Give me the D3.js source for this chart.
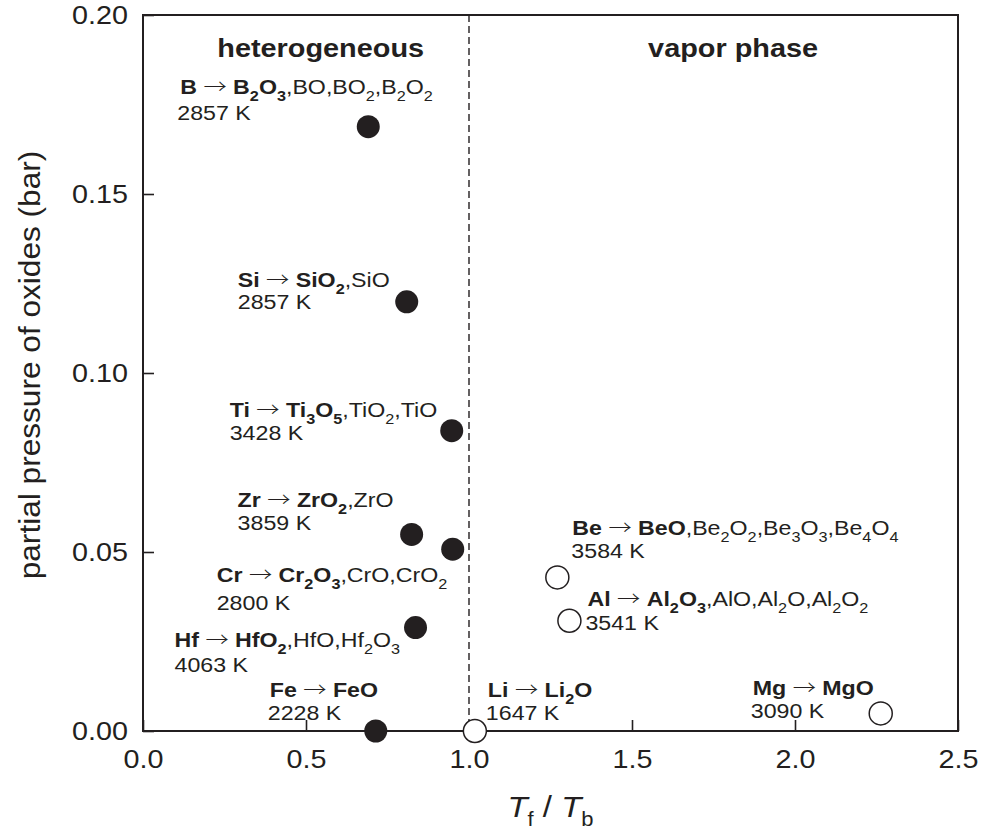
<!DOCTYPE html>
<html>
<head>
<meta charset="utf-8">
<script src="https://cdn.jsdelivr.net/npm/d3@7"></script>
<style>
  html, body { margin: 0; padding: 0; background: #fff; }
  svg { display: block; }
  text { font-family: "Liberation Sans", Arial, Helvetica, sans-serif; fill: #231f20; }
</style>
</head>
<body>
<svg id="chart" width="982" height="836"></svg>
<script>
// ---------------- data ----------------
const elements = ["B", "Si", "Ti", "Zr", "Cr", "Hf", "Fe", "Li", "Be", "Al", "Mg"];
const tRatio   = [0.691, 0.809, 0.947, 0.824, 0.950, 0.836, 0.714, 1.018, 1.271, 1.308, 2.263];
const pressure = [0.1688, 0.1199, 0.0839, 0.0549, 0.0508, 0.0289, 0.0, 0.0, 0.0429, 0.0308, 0.0049];
const phase    = ["het", "het", "het", "het", "het", "het", "het", "vap", "vap", "vap", "vap"];
const reactions = [
  "**B** \u2192 **B_2O_3**,BO,BO_2,B_2O_2",
  "**Si** \u2192 **SiO_2**,SiO",
  "**Ti** \u2192 **Ti_3O_5**,TiO_2,TiO",
  "**Zr** \u2192 **ZrO_2**,ZrO",
  "**Cr** \u2192 **Cr_2O_3**,CrO,CrO_2",
  "**Hf** \u2192 **HfO_2**,HfO,Hf_2O_3",
  "**Fe** \u2192 **FeO**",
  "**Li** \u2192 **Li_2O**",
  "**Be** \u2192 **BeO**,Be_2O_2,Be_3O_3,Be_4O_4",
  "**Al** \u2192 **Al_2O_3**,AlO,Al_2O,Al_2O_2",
  "**Mg** \u2192 **MgO**"
];
const flameTemps = ["2857 K", "2857 K", "3428 K", "3859 K", "2800 K", "4063 K", "2228 K", "1647 K", "3584 K", "3541 K", "3090 K"];
const xTicks = [0.0, 0.5, 1.0, 1.5, 2.0, 2.5];
const yTicks = [0.00, 0.05, 0.10, 0.15, 0.20];
const regionLabels = ["heterogeneous", "vapor phase"];
const boundary = 1.0;

// ---------------- layout (label offsets from the point, px) ----------------
const labelOffsets = [
  {mx: -188, my: -33, tx: -191, ty: -7},
  {mx: -169, my: -15, tx: -169, ty: 7},
  {mx: -222, my: -14, tx: -222, ty: 9},
  {mx: -174, my: -27, tx: -174, ty: -4},
  {mx: -236, my: 33,  tx: -236, ty: 61},
  {mx: -241, my: 19,  tx: -241, ty: 44},
  {mx: -106, my: -34, tx: -108, ty: -11},
  {mx: 13,   my: -34, tx: 11,   ty: -11},
  {mx: 15,   my: -42, tx: 14,   ty: -19},
  {mx: 18,   my: -15, tx: 16,   ty: 9},
  {mx: -128, my: -18, tx: -130, ty: 5}
];

const ink = "#231f20";
const margin = {top: 15, right: 24, bottom: 105, left: 143};
const W = 982, H = 836;
const iw = W - margin.left - margin.right;
const ih = H - margin.top - margin.bottom;

const svg = d3.select("#chart");
const g = svg.append("g").attr("transform", `translate(${margin.left},${margin.top})`);

const x = d3.scaleLinear().domain([0, 2.5]).range([0, iw]);
const y = d3.scaleLinear().domain([0, 0.20]).range([ih, 0]);

// axes (inward ticks)
const xAxis = g.append("g").attr("transform", `translate(0,${ih})`)
  .call(d3.axisBottom(x).tickValues(xTicks).tickFormat(d3.format(".1f"))
        .tickSizeInner(-11).tickSizeOuter(0).tickPadding(19));
const yAxis = g.append("g")
  .call(d3.axisLeft(y).tickValues(yTicks).tickFormat(d3.format(".2f"))
        .tickSizeInner(-11).tickSizeOuter(0).tickPadding(13));
[xAxis, yAxis].forEach(a => {
  a.select(".domain").remove();
  a.selectAll(".tick line").attr("stroke", ink).attr("stroke-width", 1.6);
  a.selectAll(".tick text").attr("font-size", 25).attr("fill", ink)
    .attr("font-family", "'Liberation Sans', Arial, sans-serif")
    .attr("transform", "scale(1.15,1)");
});

// frame
g.append("rect").attr("x", 0).attr("y", 0).attr("width", iw).attr("height", ih)
  .attr("fill", "none").attr("stroke", ink).attr("stroke-width", 2);

// dashed boundary
g.append("line").attr("x1", x(boundary)).attr("x2", x(boundary))
  .attr("y1", 0).attr("y2", ih)
  .attr("stroke", ink).attr("stroke-width", 1.4).attr("stroke-dasharray", "7,4");

// region labels
const regionX = [0.545, 1.81];
regionLabels.forEach((t, i) => {
  g.append("text")
    .attr("transform", `translate(${x(regionX[i])},42) scale(1.11,1)`)
    .attr("text-anchor", "middle").attr("font-size", 26).attr("font-weight", "bold")
    .text(t);
});

// points
const data = elements.map((e, i) => ({e, x: tRatio[i], y: pressure[i], phase: phase[i],
  reaction: reactions[i], temp: flameTemps[i], off: labelOffsets[i]}));

g.selectAll("circle.pt").data(data).join("circle")
  .attr("class", "pt")
  .attr("cx", d => x(d.x)).attr("cy", d => y(d.y)).attr("r", 11.5)
  .attr("fill", d => d.phase === "het" ? ink : "#fff")
  .attr("stroke", ink).attr("stroke-width", d => d.phase === "het" ? 0 : 1.5);

// rich label parsing: ** toggles bold, _c makes c subscript
function parse(s) {
  const runs = [];
  let bold = false, i = 0;
  while (i < s.length) {
    if (s.startsWith("**", i)) { bold = !bold; i += 2; continue; }
    if (s[i] === "_") { runs.push({t: s[i + 1], bold, sub: true}); i += 2; continue; }
    if (s[i] === "\u2192") { runs.push({t: s[i], bold: false, sub: false, arrow: true}); i++; continue; }
    const last = runs[runs.length - 1];
    if (last && !last.sub && !last.arrow && last.bold === bold) last.t += s[i];
    else runs.push({t: s[i], bold, sub: false});
    i++;
  }
  return runs;
}

const SX = 1.16, SUBDY = 7;
data.forEach(d => {
  const px = x(d.x) , py = y(d.y);
  const t = g.append("text")
    .attr("transform", `translate(${px + d.off.mx},${py + d.off.my}) scale(${SX},1)`)
    .attr("font-size", 20);
  let shift = 0;
  parse(d.reaction).forEach(r => {
    const want = r.sub ? SUBDY : 0;
    const ts = t.append("tspan")
      .attr("dy", want - shift)
      .attr("font-weight", r.bold ? "bold" : "normal")
      .attr("font-size", r.sub ? 14 : 20)
      .text(r.t);
    if (r.arrow) ts.attr("font-family", "'Noto Sans CJK JP', 'DejaVu Sans', sans-serif").attr("font-weight", 300);
    shift = want;
  });
  g.append("text")
    .attr("transform", `translate(${px + d.off.tx},${py + d.off.ty}) scale(${SX},1)`)
    .attr("font-size", 20).text(d.temp);
});

// x title
const xt = svg.append("text")
  .attr("transform", `translate(${margin.left + iw / 2},817) scale(1.1,1)`)
  .attr("text-anchor", "middle").attr("font-size", 30);
xt.append("tspan").attr("font-style", "italic").text("T");
xt.append("tspan").attr("font-size", 20).attr("dy", 9).text("f");
xt.append("tspan").attr("dy", -9).text(" / ");
xt.append("tspan").attr("font-style", "italic").text("T");
xt.append("tspan").attr("font-size", 20).attr("dy", 9).text("b");

// y title
svg.append("text")
  .attr("transform", `translate(40,365) rotate(-90) scale(1.09,1)`)
  .attr("text-anchor", "middle").attr("font-size", 29)
  .text("partial pressure of oxides (bar)");
</script>
</body>
</html>
